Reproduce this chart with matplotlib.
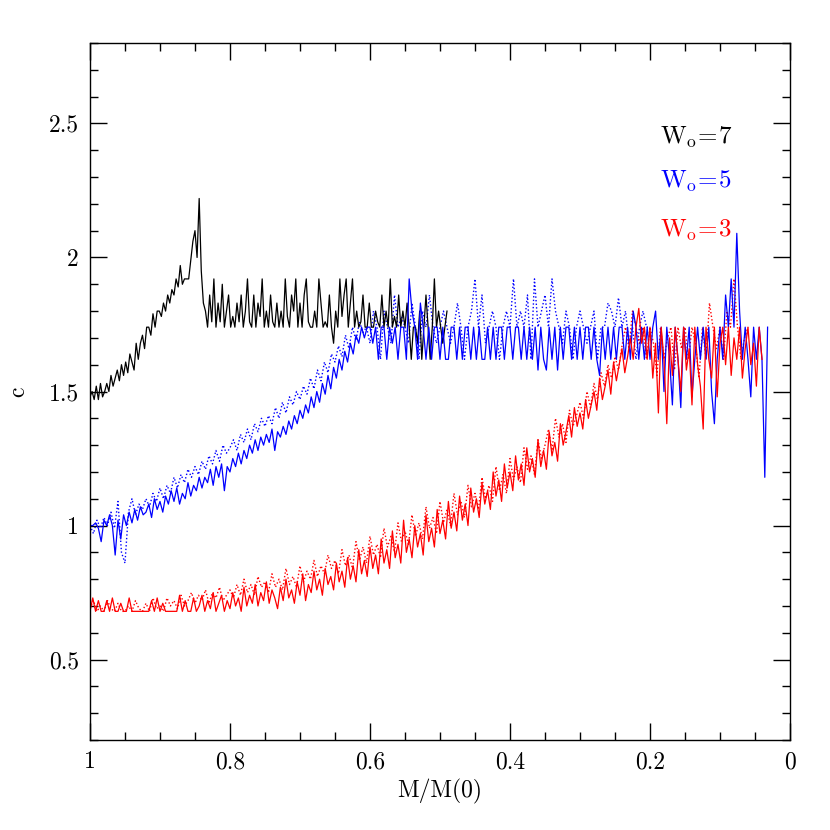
import numpy as np
import matplotlib
matplotlib.use("Agg")
import matplotlib.pyplot as plt
from matplotlib.ticker import MultipleLocator, FuncFormatter

plt.rcParams['font.family'] = ['cmr10', 'DejaVu Serif']
plt.rcParams['mathtext.fontset'] = 'cm'
plt.rcParams['axes.formatter.use_mathtext'] = True

# W0=7, solid (sampled every 0.003 from 1.0 to 0.49)
w7_x_range = (1.0, 0.49)
w7_solid = [
    1.48, 1.50, 1.47, 1.52, 1.47, 1.53, 1.48, 1.50, 1.53, 1.50,
    1.56, 1.52, 1.55, 1.58, 1.54, 1.60, 1.56, 1.61, 1.57, 1.64,
    1.61, 1.58, 1.68, 1.62, 1.68, 1.71, 1.66, 1.74, 1.74, 1.71,
    1.79, 1.74, 1.80, 1.80, 1.78, 1.83, 1.80, 1.86, 1.83, 1.88,
    1.86, 1.92, 1.89, 1.97, 1.90, 1.92, 1.92, 1.92, 1.99, 2.06,
    2.10, 2.00, 2.22, 1.95, 1.83,
    1.80, 1.74, 1.86, 1.76, 1.92, 1.74, 1.83, 1.76, 1.90, 1.74,
    1.80, 1.86, 1.74, 1.78, 1.74, 1.83, 1.76, 1.86, 1.74, 1.80,
    1.92, 1.76, 1.74, 1.86, 1.74, 1.83, 1.78, 1.92, 1.74, 1.80,
    1.74, 1.86, 1.76, 1.74, 1.83, 1.74, 1.80, 1.74, 1.92, 1.78,
    1.74, 1.86, 1.80, 1.92, 1.74, 1.83, 1.74, 1.86, 1.92, 1.76,
    1.74, 1.74, 1.80, 1.74, 1.92, 1.83, 1.74, 1.76, 1.74, 1.86,
    1.74, 1.68, 1.80, 1.74, 1.92, 1.78, 1.86, 1.92, 1.74, 1.83,
    1.92, 1.74, 1.80, 1.74, 1.76, 1.86, 1.74, 1.74, 1.83, 1.74,
    1.74, 1.80, 1.76, 1.74, 1.86, 1.74, 1.80, 1.74, 1.92, 1.74,
    1.78, 1.74, 1.86, 1.74, 1.80, 1.74, 1.83, 1.74, 1.62, 1.74,
    1.74, 1.68, 1.80, 1.62, 1.74, 1.86, 1.74, 1.62, 1.74, 1.92,
    1.74, 1.80, 1.74, 1.68, 1.74, 1.80,
]

# W0=5, solid (every 0.004 from 1.0 to 0.032)
w5_x_range = (1.0, 0.032)
w5_solid = [
    1.00, 1.00, 1.01, 0.99, 0.94, 1.02, 1.00, 1.04, 1.00, 0.89,
    1.02, 0.95, 1.04, 1.00, 1.05, 1.01, 1.06, 1.02, 1.07, 1.04,
    1.05, 1.08, 1.03, 1.10, 1.06, 1.09, 1.05, 1.11, 1.08, 1.13,
    1.09, 1.14, 1.08, 1.12, 1.10, 1.16, 1.11, 1.15, 1.13, 1.18,
    1.14, 1.18, 1.16, 1.21, 1.15, 1.22, 1.18, 1.23, 1.13, 1.22,
    1.20, 1.25, 1.22, 1.27, 1.23, 1.28, 1.25, 1.30, 1.27, 1.32,
    1.28, 1.33, 1.30, 1.34, 1.31, 1.36, 1.28, 1.35, 1.33, 1.37,
    1.34, 1.39, 1.36, 1.41, 1.38, 1.43, 1.40, 1.45, 1.42, 1.48,
    1.44, 1.50, 1.46, 1.53, 1.49, 1.56, 1.51, 1.59, 1.55, 1.62,
    1.58, 1.65, 1.61, 1.68, 1.64, 1.71, 1.68, 1.74, 1.70, 1.74,
    1.74, 1.68, 1.74, 1.62, 1.74, 1.74, 1.62, 1.74, 1.68, 1.74,
    1.62, 1.74, 1.74, 1.62, 1.92, 1.80, 1.74, 1.62, 1.83, 1.74,
    1.62, 1.74, 1.62, 1.74, 1.74, 1.62, 1.74, 1.62, 1.62, 1.74,
    1.74, 1.62, 1.74, 1.62, 1.74, 1.74, 1.62, 1.74, 1.62, 1.74,
    1.62, 1.62, 1.74, 1.62, 1.74, 1.62, 1.74, 1.74, 1.62, 1.74,
    1.74, 1.62, 1.74, 1.74, 1.62, 1.74, 1.62, 1.74, 1.62, 1.74,
    1.58, 1.74, 1.62, 1.58, 1.74, 1.62, 1.74, 1.58, 1.74, 1.62,
    1.74, 1.74, 1.62, 1.74, 1.62, 1.74, 1.62, 1.74, 1.74, 1.62,
    1.74, 1.62, 1.56, 1.74, 1.62, 1.74, 1.62, 1.74, 1.62, 1.74,
    1.74, 1.62, 1.74, 1.62, 1.80, 1.74, 1.62, 1.74, 1.62, 1.74,
    1.62, 1.74, 1.80, 1.62, 1.74, 1.50, 1.74, 1.62, 1.45, 1.74,
    1.62, 1.44, 1.74, 1.62, 1.74, 1.48, 1.62, 1.74, 1.62, 1.74,
    1.62, 1.74, 1.50, 1.38, 1.62, 1.74, 1.62, 1.86, 1.74, 1.92,
    1.74, 2.09, 1.80, 1.62, 1.74, 1.62, 1.48, 1.74, 1.62, 1.74,
    1.62, 1.18, 1.74,
]

# W0=5, dotted (every 0.005 from 1.0 to 0.2)
w5_dot_x_range = (1.0, 0.2)
w5_dotted = [
    1.00, 0.97, 1.02, 0.99, 1.03, 1.00, 1.05, 0.99, 1.09, 0.90,
    0.86, 1.05, 1.10, 1.04, 1.08, 1.06, 1.10, 1.07, 1.12, 1.09,
    1.14, 1.10, 1.15, 1.12, 1.18, 1.14, 1.19, 1.16, 1.21, 1.18,
    1.22, 1.19, 1.24, 1.21, 1.26, 1.23, 1.28, 1.24, 1.30, 1.27,
    1.29, 1.32, 1.28, 1.34, 1.31, 1.36, 1.32, 1.38, 1.35, 1.40,
    1.37, 1.41, 1.38, 1.44, 1.40, 1.46, 1.42, 1.48, 1.45, 1.50,
    1.47, 1.52, 1.49, 1.55, 1.51, 1.58, 1.54, 1.61, 1.57, 1.64,
    1.61, 1.67, 1.63, 1.71, 1.66, 1.74, 1.69, 1.76, 1.72, 1.74,
    1.68, 1.80, 1.74, 1.62, 1.80, 1.74, 1.68, 1.86, 1.74, 1.78,
    1.74, 1.68, 1.83, 1.74, 1.62, 1.80, 1.74, 1.86, 1.74, 1.68,
    1.74, 1.80, 1.74, 1.68, 1.74, 1.83, 1.74, 1.62, 1.74, 1.80,
    1.92, 1.74, 1.86, 1.68, 1.74, 1.80, 1.74, 1.62, 1.74, 1.80,
    1.74, 1.92, 1.74, 1.80, 1.74, 1.86, 1.62, 1.92, 1.74, 1.80,
    1.86, 1.74, 1.92, 1.80, 1.74, 1.68, 1.80, 1.74, 1.62, 1.74,
    1.80, 1.74, 1.68, 1.74, 1.80, 1.62, 1.74, 1.74, 1.83, 1.80,
    1.74, 1.85, 1.74, 1.80, 1.68, 1.74, 1.62, 1.74, 1.80, 1.74,
    1.74,
]

# W0=3, solid (every 0.004 from 1.0 to 0.04)
w3_x_range = (1.0, 0.04)
w3_solid = [
    0.68, 0.73, 0.68, 0.72, 0.68, 0.68, 0.72, 0.68, 0.73, 0.68,
    0.68, 0.71, 0.68, 0.68, 0.73, 0.68, 0.68, 0.68, 0.68, 0.68,
    0.68, 0.68, 0.72, 0.68, 0.73, 0.68, 0.71, 0.68, 0.68, 0.68,
    0.68, 0.68, 0.74, 0.68, 0.72, 0.68, 0.68, 0.73, 0.68, 0.70,
    0.74, 0.68, 0.72, 0.69, 0.75, 0.68, 0.71, 0.74, 0.68, 0.72,
    0.69, 0.75, 0.70, 0.73, 0.68, 0.77, 0.70, 0.74, 0.71, 0.78,
    0.70, 0.75, 0.72, 0.79, 0.71, 0.76, 0.73, 0.69, 0.77, 0.72,
    0.80, 0.73, 0.76, 0.71, 0.79, 0.74, 0.82, 0.72, 0.78, 0.75,
    0.83, 0.76, 0.80, 0.74, 0.84, 0.78, 0.81, 0.76, 0.86, 0.79,
    0.83, 0.77, 0.88, 0.80, 0.85, 0.79, 0.91, 0.82, 0.87, 0.81,
    0.92, 0.84, 0.89, 0.82, 0.95, 0.86, 0.91, 0.84, 0.98, 0.88,
    0.93, 0.86, 1.02, 0.90, 0.95, 0.88, 1.00, 0.92, 0.97, 0.89,
    1.04, 0.94, 0.99, 0.92, 1.06, 0.97, 1.02, 0.95, 1.09, 0.99,
    1.05, 0.98, 1.11, 1.02, 1.08, 1.00, 1.14, 1.05, 1.10, 1.03,
    1.16, 1.08, 1.13, 1.06, 1.20, 1.11, 1.17, 1.09, 1.23, 1.14,
    1.20, 1.13, 1.26, 1.17, 1.23, 1.15, 1.29, 1.20, 1.25, 1.18,
    1.32, 1.22, 1.28, 1.21, 1.35, 1.26, 1.31, 1.24, 1.38, 1.30,
    1.35, 1.41, 1.33, 1.44, 1.37, 1.42, 1.36, 1.47, 1.40, 1.45,
    1.50, 1.43, 1.55, 1.47, 1.52, 1.58, 1.49, 1.61, 1.54, 1.60,
    1.66, 1.57, 1.63, 1.70, 1.62, 1.74, 1.81, 1.68, 1.74, 1.62,
    1.74, 1.55, 1.68, 1.42, 1.74, 1.62, 1.38, 1.70, 1.56, 1.74,
    1.62, 1.50, 1.74, 1.58, 1.66, 1.45, 1.74, 1.60, 1.52, 1.36,
    1.74, 1.62, 1.55, 1.74, 1.48, 1.68, 1.74, 1.60, 1.74, 1.56,
    1.70, 1.62, 1.74, 1.55, 1.66, 1.74, 1.60, 1.68, 1.52, 1.74,
    1.62,
]

# W0=3, dotted (every 0.005 from 1.0 to 0.06)
w3_dot_x_range = (1.0, 0.06)
w3_dotted = [
    0.69, 0.72, 0.68, 0.70, 0.68, 0.72, 0.69, 0.68, 0.71, 0.68,
    0.68, 0.70, 0.68, 0.72, 0.69, 0.68, 0.71, 0.68, 0.73, 0.69,
    0.70, 0.68, 0.73, 0.70, 0.72, 0.69, 0.74, 0.70, 0.72, 0.75,
    0.71, 0.74, 0.72, 0.76, 0.71, 0.75, 0.73, 0.77, 0.72, 0.74,
    0.76, 0.73, 0.78, 0.74, 0.80, 0.75, 0.78, 0.74, 0.81, 0.77,
    0.79, 0.75, 0.82, 0.77, 0.80, 0.76, 0.84, 0.78, 0.81, 0.77,
    0.85, 0.79, 0.83, 0.80, 0.87, 0.81, 0.85, 0.82, 0.89, 0.84,
    0.87, 0.82, 0.91, 0.85, 0.89, 0.84, 0.94, 0.87, 0.92, 0.86,
    0.96, 0.89, 0.93, 0.88, 0.99, 0.92, 0.96, 0.90, 1.01, 0.94,
    0.98, 0.93, 1.04, 0.96, 1.01, 0.95, 1.07, 0.99, 1.03, 0.97,
    1.09, 1.01, 1.06, 1.00, 1.12, 1.04, 1.09, 1.03, 1.15, 1.07,
    1.12, 1.06, 1.18, 1.10, 1.15, 1.09, 1.22, 1.13, 1.19, 1.12,
    1.25, 1.17, 1.22, 1.16, 1.29, 1.21, 1.26, 1.19, 1.32, 1.25,
    1.30, 1.36, 1.28, 1.40, 1.33, 1.38, 1.31, 1.43, 1.37, 1.41,
    1.46, 1.40, 1.50, 1.44, 1.53, 1.47, 1.57, 1.52, 1.60, 1.55,
    1.63, 1.58, 1.67, 1.74, 1.66, 1.80, 1.74, 1.68, 1.74, 1.62,
    1.74, 1.68, 1.56, 1.74, 1.62, 1.70, 1.74, 1.58, 1.74, 1.66,
    1.74, 1.62, 1.74, 1.68, 1.55, 1.74, 1.62, 1.83, 1.74, 1.66,
    1.74, 1.62, 1.80, 1.74, 1.92, 1.74, 1.62, 1.70, 1.74,
]

labels = [r'$\mathrm{W_o\!=\!7}$', r'$\mathrm{W_o\!=\!5}$', r'$\mathrm{W_o\!=\!3}$']
label_colors = ['black', 'blue', 'red']


def grid_x(rng, vals):
    return np.linspace(rng[0], rng[1], len(vals))


fig = plt.figure(figsize=(8.3, 8.3), dpi=100)
ax = fig.add_axes([0.1084, 0.1084, 0.8434, 0.8398])

dots = (0, (1, 1.6))
ax.plot(grid_x(w5_dot_x_range, w5_dotted), w5_dotted, color='blue', lw=1.0, ls=dots)
ax.plot(grid_x(w3_dot_x_range, w3_dotted), w3_dotted, color='red', lw=1.0, ls=dots)
ax.plot(grid_x(w7_x_range, w7_solid), w7_solid, color='black', lw=0.9)
ax.plot(grid_x(w5_x_range, w5_solid), w5_solid, color='blue', lw=0.9)
ax.plot(grid_x(w3_x_range, w3_solid), w3_solid, color='red', lw=0.9)

ax.set_xlim(1, 0)
ax.set_ylim(0.2, 2.8)

ax.xaxis.set_major_locator(MultipleLocator(0.2))
ax.xaxis.set_minor_locator(MultipleLocator(0.05))
ax.yaxis.set_major_locator(MultipleLocator(0.5))
ax.yaxis.set_minor_locator(MultipleLocator(0.1))
fmt = FuncFormatter(lambda v, p: '%g' % round(v, 3))
ax.xaxis.set_major_formatter(fmt)
ax.yaxis.set_major_formatter(fmt)
ax.tick_params(which='both', direction='in', top=True, right=True, width=1.0)
ax.tick_params(which='major', length=12, labelsize=17, pad=8)
ax.tick_params(which='minor', length=6)
for s in ax.spines.values():
    s.set_linewidth(1.0)

ax.set_xlabel('M/M(0)', fontsize=17, labelpad=4)
ax.set_ylabel('c', fontsize=17, labelpad=14)

label_y = [2.45, 2.285, 2.10]
for txt, col, yy in zip(labels, label_colors, label_y):
    ax.text(0.186, yy, txt, color=col, fontsize=18, ha='left', va='center')

fig.savefig('out.png', dpi=100)
